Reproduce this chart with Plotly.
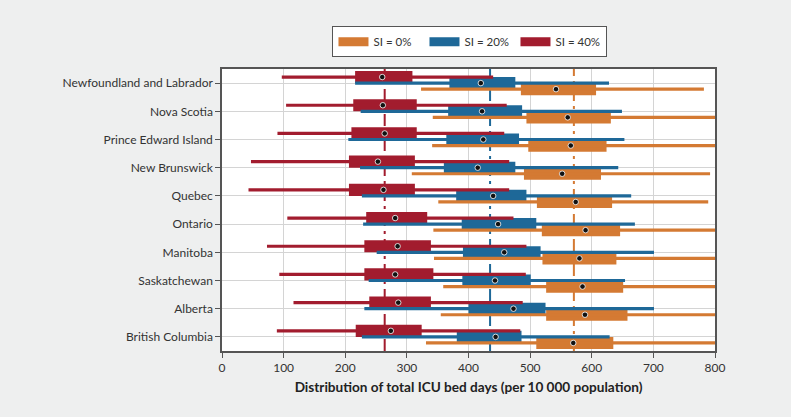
import plotly.graph_objects as go

provinces = ["Newfoundland and Labrador", "Nova Scotia", "Prince Edward Island", "New Brunswick",
             "Quebec", "Ontario", "Manitoba", "Saskatchewan", "Alberta", "British Columbia"]

# SI = 0%
o_low = [323, 342, 341, 308, 351, 343, 344, 359, 355, 331]
o_q1 = [485, 494, 497, 490, 511, 519, 520, 526, 526, 510]
o_med = [542, 561, 566, 552, 574, 590, 580, 585, 589, 570]
o_q3 = [607, 631, 624, 615, 633, 646, 640, 651, 658, 635]
o_high = [782, 820, 820, 792, 789, 820, 820, 820, 820, 820]

# SI = 20%
b_low = [216, 225, 205, 224, 227, 229, 251, 238, 231, 227]
b_q1 = [369, 367, 364, 360, 380, 389, 391, 390, 400, 381]
b_med = [420, 422, 424, 415, 440, 448, 458, 443, 473, 444]
b_q3 = [476, 487, 482, 476, 494, 510, 517, 501, 525, 486]
b_high = [628, 649, 653, 643, 664, 670, 701, 654, 701, 629]

# SI = 40%
r_low = [97, 104, 90, 47, 43, 106, 73, 93, 116, 89]
r_q1 = [216, 213, 210, 206, 206, 234, 231, 231, 239, 217]
r_med = [260, 261, 264, 253, 262, 281, 285, 281, 286, 274]
r_q3 = [309, 316, 316, 313, 313, 333, 339, 343, 339, 324]
r_high = [440, 462, 458, 466, 466, 473, 494, 493, 488, 484]

ref_values = [571, 435, 264]  # overall medians: SI=0%, 20%, 40%

names = ["SI = 0%", "SI = 20%", "SI = 40%"]
colors = ["#D47A33", "#1E6898", "#A21C2E"]
offsets = [0.215, 0.0, -0.215]
series = [
    (o_low, o_q1, o_med, o_q3, o_high),
    (b_low, b_q1, b_med, b_q3, b_high),
    (r_low, r_q1, r_med, r_q3, r_high),
]

fig = go.Figure()
FONT = "Lato, 'Noto Sans', sans-serif"

for k in range(3):
    fig.add_shape(type="line", xref="x", yref="paper", x0=ref_values[k], x1=ref_values[k],
                  y0=0, y1=1, line=dict(color=colors[k], width=2, dash="12px,5px,3px,5px"),
                  layer="between")

n = len(provinces)
for k in range(3):
    low, q1, med, q3, high = series[k]
    col = colors[k]
    off = offsets[k]
    xs, ys = [], []
    for i in range(n):
        xs += [low[i], high[i], None]
        ys += [i + off, i + off, None]
    fig.add_trace(go.Scatter(x=xs, y=ys, mode="lines", line=dict(color=col, width=3.2),
                             showlegend=False, hoverinfo="skip"))
    fig.add_trace(go.Bar(y=[i + off for i in range(n)], x=[q3[i] - q1[i] for i in range(n)],
                         base=q1, orientation="h", width=0.43,
                         marker=dict(color=col, line=dict(width=0)),
                         showlegend=False, name=names[k]))
    fig.add_trace(go.Scatter(x=med, y=[i + off for i in range(n)], mode="markers",
                             marker=dict(color="#111111", size=5.5, line=dict(color="white", width=0.8)),
                             showlegend=False, hoverinfo="skip"))

for k in range(3):
    fig.add_trace(go.Scatter(x=[None], y=[None], mode="lines", name=names[k],
                             line=dict(color=colors[k], width=9)))

fig.update_layout(
    width=791, height=417,
    barmode="overlay",
    paper_bgcolor="#EEEFEF",
    plot_bgcolor="white",
    margin=dict(l=222, r=76, t=69, b=66, autoexpand=False),
    font=dict(family=FONT, size=12, color="#333333"),
    showlegend=True,
    legend=dict(orientation="h", x=0.503, xanchor="center", y=0.9, yref="container", yanchor="middle",
                xref="paper",
                bgcolor="white", bordercolor="#555555", borderwidth=1,
                font=dict(size=11.5, family=FONT, color="#333333"),
                entrywidth=46, itemwidth=30, traceorder="normal", tracegroupgap=0),
    xaxis=dict(range=[0, 800], tickvals=[0, 100, 200, 300, 400, 500, 600, 700, 800],
               showgrid=True, gridcolor="#D4D4D4", gridwidth=1, automargin=False,
               zeroline=False, showline=True, linecolor="#555555", linewidth=1.5, mirror=True,
               ticks="outside", ticklen=5, tickcolor="#555555",
               tickfont=dict(size=12, color="#333333"),
               title=dict(text="<b>Distribution of total ICU bed days (per 10 000 population)</b>",
                          font=dict(size=13.6, color="#222222"), standoff=8)),
    yaxis=dict(range=[n - 0.5, -0.5], tickvals=list(range(n)), ticktext=provinces,
               showgrid=True, gridcolor="#D4D4D4", gridwidth=1, automargin=False,
               zeroline=False, showline=True, linecolor="#555555", linewidth=1.5, mirror=True,
               ticks="outside", ticklen=5, tickcolor="#555555",
               tickfont=dict(size=12, color="#333333")),
)

fig.write_html("out.html", config={"displayModeBar": False},
               post_script="document.body.style.margin='0';")
